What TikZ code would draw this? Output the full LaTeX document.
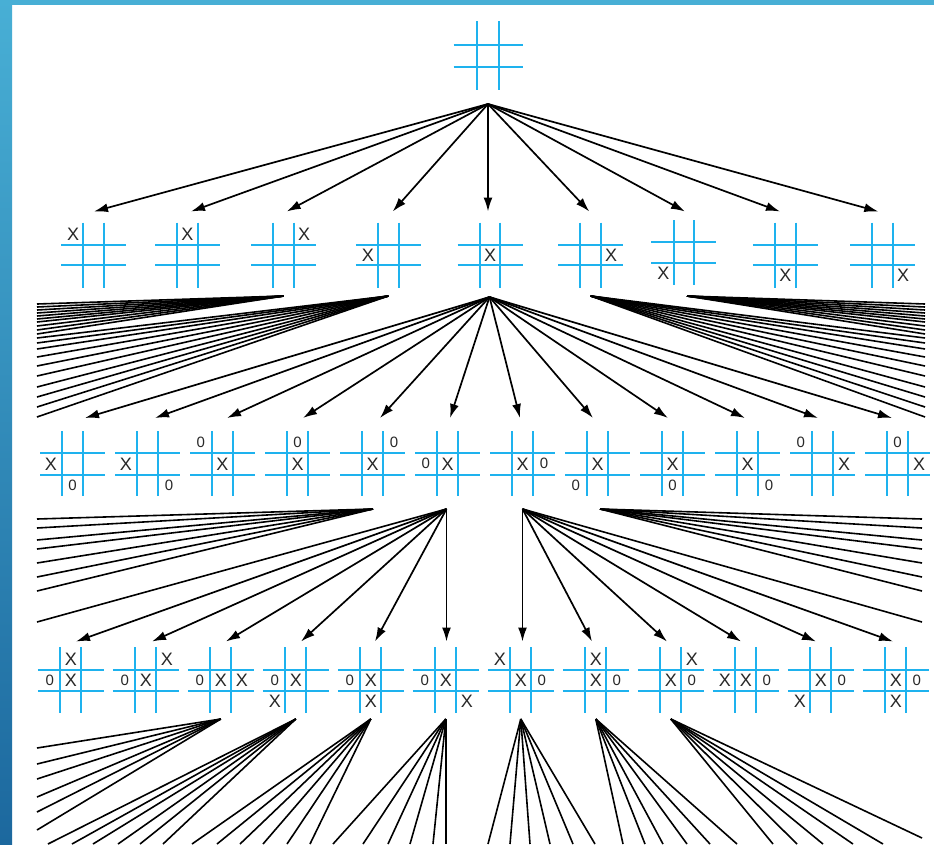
\documentclass[tikz,border=0pt]{standalone}
\usepackage{fontspec}
\setmainfont{Liberation Sans}
\usetikzlibrary{arrows.meta}
\definecolor{gridblue}{RGB}{30,178,238}
\definecolor{barblue}{RGB}{72,175,213}
\definecolor{bardark}{RGB}{28,104,158}
\definecolor{markc}{RGB}{40,40,40}
\tikzset{
  gridline/.style={draw=gridblue, line width=2pt},
  boardbox/.style={rectangle, inner sep=0pt, minimum size=66pt, draw=none},
  glyph/.style={inner sep=0pt, text=markc},
  arr/.style={draw=black, line width=1.7pt, -{Latex[length=14pt,width=9pt]}},
  fanline/.style={draw=black, line width=1.6pt},
}
\def\tttglyphX{\fontsize{18}{18}\selectfont X}
\def\tttglyphO{\fontsize{15}{15}\selectfont 0}
\newcommand\tttgrid[5]{%
  \node[boardbox] (#1) at (#2,#3) {};
  \draw[gridline] ({#2-#4/2},{#3-#5}) -- ({#2-#4/2},{#3+#5});
  \draw[gridline] ({#2+#4/2},{#3-#5}) -- ({#2+#4/2},{#3+#5});
  \draw[gridline] ({#2-#5},{#3-#4/2}) -- ({#2+#5},{#3-#4/2});
  \draw[gridline] ({#2-#5},{#3+#4/2}) -- ({#2+#5},{#3+#4/2});
}
\newcommand\tttmarks[5]{%
  \foreach \ci/\ri/\ti in {#5} {
    \node[glyph] (#1-\ci\ri) at ({#2+(\ci-1)*#4},{#3+(\ri-1)*#4}) {\csname tttglyph\ti\endcsname};
  }
}
\newcommand\board[6]{\tttgrid{#1}{#2}{#3}{#4}{#5}\tttmarks{#1}{#2}{#3}{#4}{#6}}
\begin{document}
\begin{tikzpicture}[x=1pt,y=-1pt]
\useasboundingbox (0,0) rectangle (934,844);
\fill[white] (0,0) rectangle (934,844);
% frame
\fill[barblue] (0,0) rectangle (934,5);
\shade[top color=barblue, bottom color=bardark] (0,0) rectangle (12,844);

% root
\tttgrid{r}{488}{55.5}{22}{34.5}
\coordinate (r-a) at (488,104);

% level 1
\board{b1-1}{93.7}{255}{20.5}{32.5}{0/0/X}
\board{b1-2}{187.5}{255}{20.5}{32.5}{1/0/X}
\board{b1-3}{283.7}{255}{20.5}{32.5}{2/0/X}
\board{b1-4}{388.3}{255}{20.5}{32.5}{0/1/X}
\board{b1-5}{490}{255}{20.5}{32.5}{1/1/X}
\board{b1-6}{590.5}{255}{20.5}{32.5}{2/1/X}
\board{b1-7}{683.8}{252.5}{20.5}{32.5}{0/2/X}
\board{b1-8}{785.3}{255}{20.5}{32.5}{1/2/X}
\board{b1-9}{882.5}{255}{20.5}{32.5}{2/2/X}

\foreach \k/\x in {1/94,2/191,3/286.7,4/392.7,5/488,6/589.3,7/685,8/780,9/878.3} {
  \coordinate (t1-\k) at (\x,211.5);
  \draw[arr] (r-a) -- (t1-\k);
}

\coordinate (b1-3-a) at (283.7,296);
\coordinate (b1-4-a) at (388.3,296);
\coordinate (b1-5-a) at (489.5,297);
\coordinate (b1-6-a) at (590.7,296);
\coordinate (b1-7-a) at (687,296);

\foreach \y [count=\i] in {304,307,310,313,316,319,322,326,330,334} {
  \coordinate (fA-\i) at (37,\y); \draw[fanline] (b1-3-a) -- (fA-\i);
  \coordinate (fD-\i) at (925,\y); \draw[fanline] (b1-7-a) -- (fD-\i);
}
\foreach \y [count=\i] in {338,343,349,357,366,376,387,397,407,417} {
  \coordinate (fB-\i) at (37,\y); \draw[fanline] (b1-4-a) -- (fB-\i);
  \coordinate (fC-\i) at (925,\y); \draw[fanline] (b1-6-a) -- (fC-\i);
}

\foreach \k/\x in {1/85,2/155,3/227,4/303,5/380,6/450,7/520,8/593,9/668,10/745,11/818,12/892} {
  \coordinate (t2-\k) at (\x,418);
  \draw[arr] (b1-5-a) -- (t2-\k);
}

% level 2
\board{b2-1}{72.5}{463.8}{21.6}{32.5}{0/1/X,1/2/O}
\board{b2-2}{147.5}{463.8}{21.6}{32.5}{0/1/X,2/2/O}
\board{b2-3}{222.5}{463.8}{21.6}{32.5}{0/0/O,1/1/X}
\board{b2-4}{297.5}{463.8}{21.6}{32.5}{1/0/O,1/1/X}
\board{b2-5}{372.5}{463.8}{21.6}{32.5}{1/1/X,2/0/O}
\board{b2-6}{447.5}{463.8}{21.6}{32.5}{0/1/O,1/1/X}
\board{b2-7}{522.5}{463.8}{21.6}{32.5}{1/1/X,2/1/O}
\board{b2-8}{597.5}{463.8}{21.6}{32.5}{1/1/X,0/2/O}
\board{b2-9}{672.5}{463.8}{21.6}{32.5}{1/1/X,1/2/O}
\board{b2-10}{747.5}{463.8}{21.6}{32.5}{1/1/X,2/2/O}
\board{b2-11}{822.5}{463.8}{21.6}{32.5}{0/0/O,2/1/X}
\board{b2-12}{897.5}{463.8}{21.6}{32.5}{1/0/O,2/1/X}

\coordinate (b2-5-a) at (373,509);
\coordinate (b2-6-a) at (446.5,509);
\coordinate (b2-7-a) at (522.5,509);
\coordinate (b2-8-a) at (600,509);

\foreach \y [count=\i] in {519,528,540,549,563,577,591} {
  \coordinate (fE-\i) at (37,\y); \draw[fanline] (b2-5-a) -- (fE-\i);
  \coordinate (fF-\i) at (922,\y); \draw[fanline] (b2-8-a) -- (fF-\i);
}
\coordinate (fE-x) at (37,622); \draw[fanline] (b2-6-a) -- (fE-x);
\coordinate (fF-x) at (922,622); \draw[fanline] (b2-7-a) -- (fF-x);

\foreach \k/\x in {1/76,2/152,3/226,4/301,5/375,6/446.5} {
  \coordinate (t3-\k) at (\x,641.5);
  \draw[arr] (b2-6-a) -- (t3-\k);
}
\foreach \k/\x in {7/522.5,8/592,9/667,10/741,11/816,12/893} {
  \coordinate (t3-\k) at (\x,641.5);
  \draw[arr] (b2-7-a) -- (t3-\k);
}

% level 3
\board{b3-1}{70.8}{680}{21}{33}{1/0/X,1/1/X,0/1/O}
\board{b3-2}{145.8}{680}{21}{33}{2/0/X,0/1/O,1/1/X}
\board{b3-3}{220.8}{680}{21}{33}{0/1/O,1/1/X,2/1/X}
\board{b3-4}{295.8}{680}{21}{33}{0/1/O,1/1/X,0/2/X}
\board{b3-5}{370.8}{680}{21}{33}{0/1/O,1/1/X,1/2/X}
\board{b3-6}{445.8}{680}{21}{33}{0/1/O,1/1/X,2/2/X}
\board{b3-7}{520.8}{680}{21}{33}{0/0/X,1/1/X,2/1/O}
\board{b3-8}{595.8}{680}{21}{33}{1/0/X,1/1/X,2/1/O}
\board{b3-9}{670.8}{680}{21}{33}{2/0/X,1/1/X,2/1/O}
\board{b3-10}{745.8}{680}{21}{33}{0/1/X,1/1/X,2/1/O}
\board{b3-11}{820.8}{680}{21}{33}{0/2/X,1/1/X,2/1/O}
\board{b3-12}{895.8}{680}{21}{33}{1/1/X,2/1/O,1/2/X}

\foreach \k/\x in {3/220.8,4/295.8,5/370.8,6/445.8,7/520.8,8/595.8,9/670.8} {
  \coordinate (b3-\k-a) at (\x,719);
}
\foreach \y [count=\i] in {748,764,779,797,812,830} {
  \coordinate (g3-\i) at (37,\y); \draw[fanline] (b3-3-a) -- (g3-\i);
}
\foreach \x [count=\i] in {48,72,93,118,140,163} {
  \coordinate (g4-\i) at (\x,844); \draw[fanline] (b3-4-a) -- (g4-\i);
}
\foreach \x [count=\i] in {192,217,240,263,287,310} {
  \coordinate (g5-\i) at (\x,844); \draw[fanline] (b3-5-a) -- (g5-\i);
}
\foreach \x [count=\i] in {333,363,388,410,433,445.8} {
  \coordinate (g6-\i) at (\x,844); \draw[fanline] (b3-6-a) -- (g6-\i);
}
\foreach \x [count=\i] in {488,510,530,550,573,595} {
  \coordinate (g7-\i) at (\x,844); \draw[fanline] (b3-7-a) -- (g7-\i);
}
\foreach \x [count=\i] in {623,645,663,687,710,737} {
  \coordinate (g8-\i) at (\x,844); \draw[fanline] (b3-8-a) -- (g8-\i);
}
\foreach \x [count=\i] in {773,797,823,853,883} {
  \coordinate (g9-\i) at (\x,844); \draw[fanline] (b3-9-a) -- (g9-\i);
}
\coordinate (g9-6) at (922,838); \draw[fanline] (b3-9-a) -- (g9-6);
\end{tikzpicture}
\end{document}
